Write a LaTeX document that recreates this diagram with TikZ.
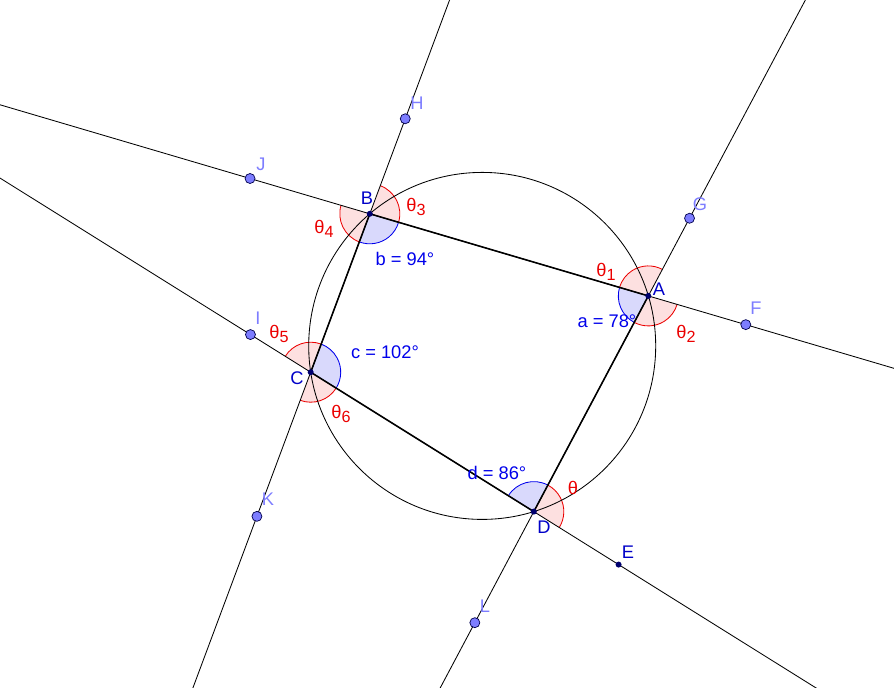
\documentclass[tikz,border=0pt]{standalone}
\usepackage{fontspec}
\setmainfont{Liberation Sans}
\usepackage{tikz}
\usetikzlibrary{calc,angles}

\definecolor{punktdunkel}{RGB}{0,0,110}
\definecolor{namedunkel}{RGB}{0,0,200}
\definecolor{punkthell}{RGB}{125,125,255}
\definecolor{winkelrot}{RGB}{235,0,0}
\definecolor{winkelblau}{RGB}{0,0,235}

\newcommand{\thidx}[1]{θ\raisebox{-3pt}{\fontsize{11.5}{12}\selectfont #1}}

\tikzset{
	gerade/.style={black, line width=0.6pt},
	seite/.style={black, line width=1.1pt},
	rotwinkel/.style={draw=winkelrot, fill=winkelrot, fill opacity=0.12, line width=0.6pt, angle radius=0.75cm},
	blauwinkel/.style={draw=winkelblau, fill=winkelblau, fill opacity=0.15, line width=0.6pt, angle radius=0.75cm},
	phell/.style={fill=punkthell, draw=punktdunkel!70!black, line width=0.5pt},
	ndunkel/.style={text=namedunkel, font=\fontsize{13}{15}\selectfont},
	nhell/.style={text=punkthell, font=\fontsize{13}{15}\selectfont},
	nrot/.style={text=winkelrot, font=\fontsize{13}{15}\selectfont},
	nblau/.style={text=winkelblau, font=\fontsize{13}{15}\selectfont},
}

\begin{document}
\begin{tikzpicture}[x=0.025cm, y=0.025cm]
	\useasboundingbox (0,0) rectangle (894,687);
	\clip (0,0) rectangle (894,687);

	% Sehnenviereck auf dem Kreis
	\coordinate (O) at (482.2,341.1);
	\coordinate (A) at (648.3,391.1);
	\coordinate (B) at (369.8,473.2);
	\coordinate (C) at (310.7,314.8);
	\coordinate (D) at (533.8,175.4);

	% Punkte auf den Verlaengerungen
	\coordinate (F) at ($(A)!-0.35!(B)$);
	\coordinate (J) at ($(B)!-0.43!(A)$);
	\coordinate (G) at ($(A)!-0.36!(D)$);
	\coordinate (L) at ($(D)!-0.515!(A)$);
	\coordinate (H) at ($(B)!-0.6!(C)$);
	\coordinate (K) at ($(C)!-0.91!(B)$);
	\coordinate (I) at ($(C)!-0.27!(D)$);
	\coordinate (E) at ($(D)!-0.38!(C)$);

	% Enden der Geraden (ausserhalb, werden abgeschnitten)
	\coordinate (ab1) at ($(B)!-3!(A)$);
	\coordinate (ab2) at ($(A)!-3!(B)$);
	\coordinate (ad1) at ($(D)!-3!(A)$);
	\coordinate (ad2) at ($(A)!-3!(D)$);
	\coordinate (bc1) at ($(C)!-3!(B)$);
	\coordinate (bc2) at ($(B)!-3!(C)$);
	\coordinate (cd1) at ($(C)!-3!(D)$);
	\coordinate (cd2) at ($(D)!-3!(C)$);

	% Winkel
	\pic[rotwinkel] {angle = G--A--B};
	\pic[rotwinkel] {angle = D--A--F};
	\pic[blauwinkel] {angle = B--A--D};
	\pic[rotwinkel] {angle = A--B--H};
	\pic[rotwinkel] {angle = J--B--C};
	\pic[blauwinkel] {angle = C--B--A};
	\pic[rotwinkel] {angle = B--C--I};
	\pic[rotwinkel] {angle = K--C--D};
	\pic[blauwinkel] {angle = D--C--B};
	\pic[rotwinkel] {angle = E--D--A};
	\pic[blauwinkel] {angle = A--D--C};

	\draw[gerade] (ab1) -- (ab2);
	\draw[gerade] (ad1) -- (ad2);
	\draw[gerade] (bc1) -- (bc2);
	\draw[gerade] (cd1) -- (cd2);
	\draw[gerade] (O) circle [radius=173.5];

	\draw[seite] (A) -- (B) -- (C) -- (D) -- cycle;

	\foreach \p in {F,G,H,I,J,K,L}
		\filldraw[phell] (\p) circle [radius=5];
	\foreach \p in {A,B,C,D,E}
		\fill[punktdunkel] (\p) circle [radius=3];

	% Beschriftung
	\node[ndunkel] (lA) at (659,398) {A};
	\node[ndunkel] (lB) at (367,489) {B};
	\node[ndunkel] (lC) at (297,309) {C};
	\node[ndunkel] (lD) at (544,160) {D};
	\node[ndunkel] (lE) at (628,135) {E};
	\node[nhell] (lF) at (756,379) {F};
	\node[nhell] (lG) at (700,483) {G};
	\node[nhell] (lH) at (417,584) {H};
	\node[nhell] (lI) at (258,369) {I};
	\node[nhell] (lJ) at (261,523) {J};
	\node[nhell] (lK) at (268,188) {K};
	\node[nhell] (lL) at (485,81) {L};

	\node[nrot] (t1) at (606,415) {\thidx{1}};
	\node[nrot] (t2) at (686,353) {\thidx{2}};
	\node[nrot] (t3) at (416,480) {\thidx{3}};
	\node[nrot] (t4) at (324,458) {\thidx{4}};
	\node[nrot] (t5) at (279,353) {\thidx{5}};
	\node[nrot] (t6) at (341,273) {\thidx{6}};
	\node[nrot] (t0) at (573,199) {θ};

	\node[nblau] (wa) at (607,366) {a = 78°};
	\node[nblau] (wb) at (405,428) {b = 94°};
	\node[nblau] (wc) at (385,335) {c = 102°};
	\node[nblau] (wd) at (497,214) {d = 86°};
\end{tikzpicture}
\end{document}
